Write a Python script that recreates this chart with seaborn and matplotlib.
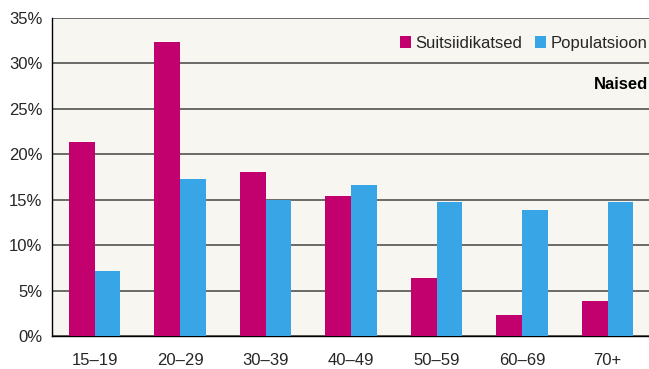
import numpy as np
import pandas as pd
import matplotlib
matplotlib.use('Agg')
import matplotlib.pyplot as plt
import seaborn as sns
from matplotlib.ticker import FixedLocator, PercentFormatter

# Data
age_groups = ['15–19', '20–29', '30–39', '40–49', '50–59', '60–69', '70+']
suicide_attempts = [21.3, 32.3, 18.1, 15.4, 6.4, 2.3, 3.9]
population = [7.2, 17.3, 15.0, 16.6, 14.8, 13.9, 14.8]
series_names = ['Suitsiidikatsed', 'Populatsioon']

df = pd.DataFrame({
    'Vanus': age_groups * 2,
    'Osakaal': suicide_attempts + population,
    'Rühm': [series_names[0]] * len(age_groups) + [series_names[1]] * len(age_groups),
})

sns.set_style('white')
plt.rcParams['font.family'] = ['Liberation Sans', 'DejaVu Sans']

colors = ['#c2006e', '#38a6e6']
bg = '#f7f6f0'

fig = plt.figure(figsize=(6.49, 3.69), dpi=100)
ax = fig.add_axes([0.080, 0.0894, 0.922, 0.862])
ax.set_facecolor(bg)

sns.barplot(data=df, x='Vanus', y='Osakaal', hue='Rühm', palette=colors,
            width=0.6, saturation=1, linewidth=0, edgecolor='none', ax=ax, zorder=3)

ax.set_ylim(0, 35)
ax.set_xlim(-0.5, 6.5)
ax.set_yticks(np.arange(0, 36, 5))
ax.yaxis.set_major_formatter(PercentFormatter(decimals=0))
ax.grid(axis='y', color='#444444', linewidth=1.1, zorder=1)
ax.set_axisbelow(True)

# Tick marks between categories
ax.xaxis.set_minor_locator(FixedLocator(np.arange(-0.5, 7, 1)))
ax.tick_params(axis='x', which='major', length=0, labelsize=12, pad=12)
ax.tick_params(axis='x', which='minor', length=5, width=1, color='black', direction='out')
ax.tick_params(axis='y', length=5, width=1, color='black', direction='out', labelsize=12, pad=2)
ax.set_xlabel('')
ax.set_ylabel('')

for side in ['top', 'right']:
    ax.spines[side].set_visible(False)
ax.spines['left'].set_color('black')
ax.spines['bottom'].set_color('black')
ax.spines['left'].set_linewidth(1)
ax.spines['bottom'].set_linewidth(1)

leg = ax.legend(loc='upper right', bbox_to_anchor=(1.012, 0.975), ncol=2, frameon=False,
                fontsize=12, handlelength=0.7, handleheight=0.7, handletextpad=0.25,
                columnspacing=0.75, borderaxespad=0.2)

ax.text(0.997, 0.79, 'Naised', transform=ax.transAxes, ha='right', va='center',
        fontsize=12, fontweight='bold', color='black')

fig.savefig('out.png', dpi=100, facecolor='white')
